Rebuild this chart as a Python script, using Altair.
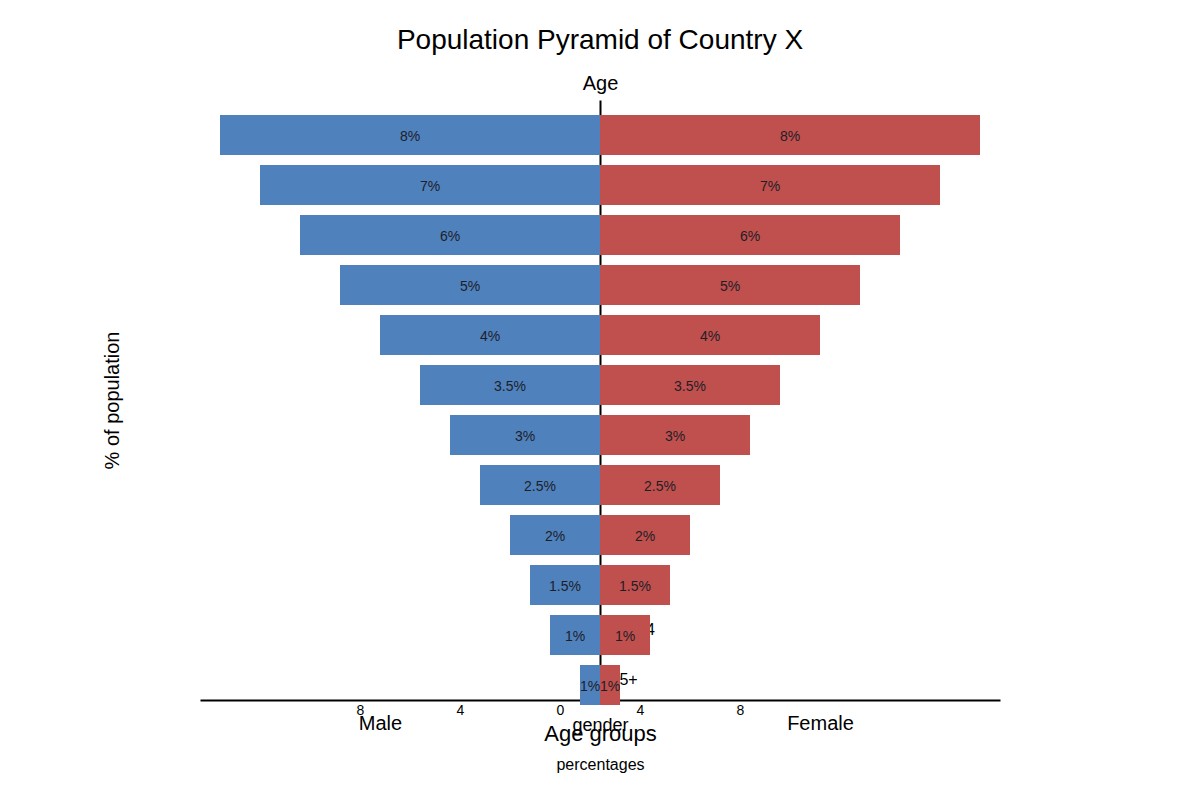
import pandas as pd
import altair as alt

# Age groups, top row first
ages = ["0–4", "5–9", "10–14", "15–19", "20–24", "25–29",
        "30–34", "35–39", "40–44", "45–54", "55–64", "65+"]

# Bar lengths (both sides mirror each other)
male_pct = [9.5, 8.5, 7.5, 6.5, 5.5, 4.5, 3.75, 3.0, 2.25, 1.75, 1.25, 0.5]
female_pct = [9.5, 8.5, 7.5, 6.5, 5.5, 4.5, 3.75, 3.0, 2.25, 1.75, 1.25, 0.5]

# Text printed on the bars
bar_labels = ["8%", "7%", "6%", "5%", "4%", "3.5%",
              "3%", "2.5%", "2%", "1.5%", "1%", "1%"]

# Bottom axis tick labels
tick_values = [-6, -3.5, -1, 1, 3.5]
tick_text = ["8", "4", "0", "4", "8"]

rows = []
for age, m, f, lab in zip(ages, male_pct, female_pct, bar_labels):
    rows.append({"age": age, "gender": "Male", "pct": m, "signed": -m, "label": lab})
    rows.append({"age": age, "gender": "Female", "pct": f, "signed": f, "label": lab})
df = pd.DataFrame(rows)

label_expr = " : ".join(
    f"datum.value < {v + 0.1} ? '{t}'" for v, t in zip(tick_values[:-1], tick_text[:-1])
) + f" : '{tick_text[-1]}'"

x_dom = [-10, 10]
y_scale = alt.Scale(domain=ages, paddingInner=0.2, paddingOuter=0.1)

base = alt.Chart(df)

# Bars
bars = base.mark_bar(yOffset=10).encode(
    x=alt.X("signed:Q", scale=alt.Scale(domain=x_dom),
            axis=alt.Axis(values=tick_values, labelExpr=label_expr, grid=False,
                          ticks=False, tickSize=0, domainColor="black", domainWidth=2,
                          labelColor="black", labelFontSize=14, labelPadding=3,
                          title="percentages", titleFontSize=16, titleFontWeight="normal",
                          titleY=69, titleBaseline="alphabetic", titleColor="black")),
    y=alt.Y("age:N", sort=ages, scale=y_scale,
            axis=alt.Axis(orient="right", offset=-400, ticks=False, grid=False,
                          domainColor="black", domainWidth=2, labelPadding=10,
                          labelFontSize=16, labelColor="black", labelAlign="left",
                          labelOffset=5,
                          title="Age", titleAngle=0, titleX=0, titleY=-7,
                          titleAlign="center", titleBaseline="bottom", titleFontSize=20,
                          titleFontWeight="normal", titleColor="black")),
    color=alt.Color("gender:N", legend=None,
                    scale=alt.Scale(domain=["Male", "Female"], range=["#4f81bd", "#c0504d"])),
)

# Percent labels in the middle of each bar
texts = base.mark_text(yOffset=12, fontSize=14, color="#1e1e28", baseline="middle").transform_calculate(
    mid="datum.signed / 2"
).encode(
    x=alt.X("mid:Q", scale=alt.Scale(domain=x_dom), axis=None),
    y=alt.Y("age:N", sort=ages, scale=y_scale, axis=None),
    text="label:N",
)

# Invisible layer carrying the gender labels and the left title
gender_axis = base.mark_point(opacity=0).encode(
    x=alt.X("signed:Q", scale=alt.Scale(domain=x_dom),
            axis=alt.Axis(orient="bottom", values=[-5.5, 5.5],
                          labelExpr="datum.value < 0 ? 'Male' : 'Female'",
                          grid=False, domain=False, ticks=False, tickSize=0,
                          labelFontSize=20, labelColor="black", labelPadding=13,
                          title="gender", titleFontSize=18, titleFontWeight="normal",
                          titleY=30, titleBaseline="alphabetic", titleColor="black")),
    y=alt.Y("pct:Q", axis=alt.Axis(orient="left", labels=False, ticks=False, domain=False,
                                   grid=False, title="% of population", titleFontSize=20,
                                   titleFontWeight="normal", titlePadding=78,
                                   titleColor="black")),
)

# Invisible layer carrying the "Age groups" title
group_axis = base.mark_point(opacity=0).encode(
    x=alt.X("signed:Q", scale=alt.Scale(domain=x_dom),
            axis=alt.Axis(orient="bottom", labels=False, grid=False, domain=False,
                          ticks=False, tickSize=0, title="Age groups", titleFontSize=22,
                          titleFontWeight="normal", titleY=40, titleBaseline="alphabetic",
                          titleColor="black")),
)

chart = alt.layer(bars, texts, gender_axis, group_axis).resolve_scale(
    x="independent", y="independent"
).properties(
    width=800,
    height=600,
    title=alt.TitleParams("Population Pyramid of Country X", fontSize=28,
                          fontWeight="normal", anchor="middle", color="black", offset=18),
    autosize=alt.AutoSizeParams(type="none"),
    padding={"left": 192, "top": 92, "right": 192, "bottom": 92},
).configure(
    font="Liberation Sans"
).configure_view(
    stroke=None
)

chart.save("out.html", embed_options={"renderer": "svg", "actions": False})
